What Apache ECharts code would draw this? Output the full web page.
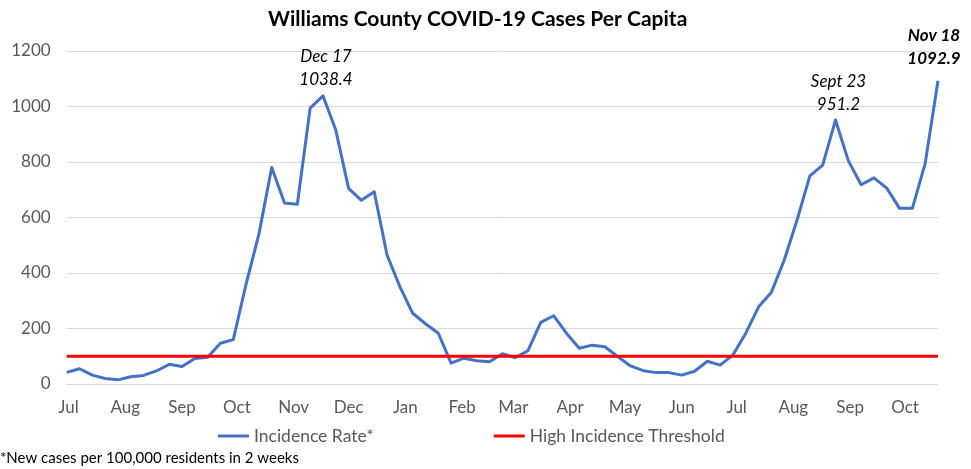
<!DOCTYPE html>
<html>
<head>
<meta charset="utf-8">
<script src="https://cdn.jsdelivr.net/npm/echarts@6/dist/echarts.min.js"></script>
<style>
html,body{margin:0;padding:0;background:#fff;}
#chart{width:971px;height:469px;}
</style>
</head>
<body>
<div id="chart"></div>
<script>
// Weekly points; axis dates as placed on the reference's month axis
const startDate = '2020-06-30';
const weekCount = 69;
const incidence = [42, 55, 32, 20, 15, 26, 31, 47, 71, 63, 92, 96, 147, 160, 360, 540, 780, 652, 648, 994,
  1038.4, 915, 705, 662, 693, 465, 351, 255, 217, 183, 75, 93, 84, 80, 109, 95, 120, 222, 246, 183,
  129, 140, 134, 99, 65, 48, 41, 41, 32, 46, 82, 68, 105, 183, 278, 331, 447, 591, 750, 789,
  951.2, 805, 718, 743, 706, 633, 633, 795, 1092.9];
const thresholdValue = 100;
const annotations = [
  {index: 20, text: 'Dec 17\n1038.4', bold: false},
  {index: 60, text: 'Sept 23\n951.2', bold: false},
  {index: 68, text: 'Nov 18\n1092.9', bold: true}
];
const monthNames = ['Jan','Feb','Mar','Apr','May','Jun','Jul','Aug','Sep','Oct','Nov','Dec'];
const yTicks = {min: 0, max: 1200, interval: 200};

const dates = [];
{
  const p = startDate.split('-').map(Number);
  for (let i = 0; i < weekCount; i++) {
    dates.push(new Date(p[0], p[1] - 1, p[2] + 7 * i).getTime());
  }
}
const FONT = 'Lato';

const blueData = incidence.map((v, i) => [dates[i], v]);
const annData = annotations.map(a => ({
  value: [dates[a.index], incidence[a.index]],
  label: {
    show: true, position: 'top', distance: a.bold ? 10 : 4,
    formatter: a.text, fontFamily: FONT, fontSize: 17, lineHeight: 23,
    fontStyle: 'italic', fontWeight: a.bold ? 'bold' : 'normal',
    color: '#000', opacity: 1, offset: [a.bold ? -4 : 3, 0]
  }
}));
const redData = dates.map(d => [d, thresholdValue]);

const chart = echarts.init(document.getElementById('chart'), null, {renderer: 'canvas'});
chart.setOption({
  animation: false,
  textStyle: {fontFamily: FONT},
  title: {
    text: 'Williams County COVID-19 Cases Per Capita',
    left: 263, top: 4,
    textStyle: {fontFamily: FONT, fontSize: 21, fontWeight: 'bold', color: '#000'}
  },
  grid: {left: 66.7, right: 33, top: 51, bottom: 85},
  legend: {
    bottom: 19, left: 213, itemWidth: 31, itemHeight: 3, itemGap: 120,
    icon: 'rect',
    textStyle: {fontFamily: FONT, fontSize: 17.5, color: '#595959'},
    data: ['Incidence Rate*', 'High Incidence Threshold']
  },
  xAxis: {
    type: 'time',
    min: dates[0], max: dates[dates.length - 1],
    splitNumber: 16,
    minInterval: 28 * 86400000,
    maxInterval: 31 * 86400000,
    axisLine: {show: true, lineStyle: {color: '#d9d9d9', width: 1}},
    axisTick: {show: false},
    splitLine: {show: false},
    axisLabel: {
      fontFamily: FONT, fontSize: 17, color: '#595959', margin: 15,
      showMinLabel: false, showMaxLabel: false,
      formatter: v => monthNames[new Date(v).getMonth()]
    }
  },
  yAxis: {
    type: 'value', min: yTicks.min, max: yTicks.max, interval: yTicks.interval,
    axisLine: {show: false}, axisTick: {show: false},
    splitLine: {lineStyle: {color: '#d9d9d9', width: 1}},
    axisLabel: {fontFamily: FONT, fontSize: 17, color: '#595959', margin: 16, formatter: v => String(v)}
  },
  series: [
    {
      name: 'Incidence Rate*', type: 'line', data: blueData,
      showSymbol: false, symbol: 'none', z: 3,
      lineStyle: {color: '#4472C4', width: 3, join: 'round'},
      itemStyle: {color: '#4472C4'}
    },
    {
      name: 'High Incidence Threshold', type: 'line', data: redData,
      showSymbol: false, symbol: 'none', z: 4,
      lineStyle: {color: '#ff0000', width: 3},
      itemStyle: {color: '#ff0000'}
    },
    {
      name: 'annotations', type: 'scatter', data: annData,
      symbolSize: 1, itemStyle: {color: '#4472C4', opacity: 0}, z: 5, silent: true
    }
  ],
  graphic: [{
    type: 'text', left: 0, top: 451,
    style: {text: '*New cases per 100,000 residents in 2 weeks', font: '15px ' + FONT, fill: '#000'}
  }]
});
</script>
</body>
</html>
